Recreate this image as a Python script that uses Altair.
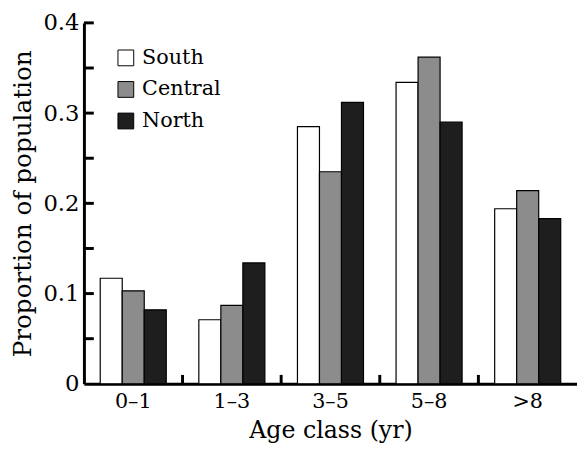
import altair as alt
import pandas as pd

categories = ["0–1", "1–3", "3–5", "5–8", ">8"]
series_names = ["South", "Central", "North"]
south = [0.117, 0.071, 0.285, 0.334, 0.194]
central = [0.103, 0.087, 0.235, 0.362, 0.214]
north = [0.082, 0.134, 0.312, 0.290, 0.183]
colors = ["#ffffff", "#8c8c8c", "#1e1e1e"]
y_ticks = [0.05, 0.1, 0.15, 0.2, 0.25, 0.3, 0.35, 0.4]
y_labels = [0, 0.1, 0.2, 0.3, 0.4]

rows = []
for name, vals in zip(series_names, [south, central, north]):
    for c, v in zip(categories, vals):
        rows.append({"cat": c, "series": name, "value": v})
df = pd.DataFrame(rows)
ytick_df = pd.DataFrame({"t": y_ticks})
xtick_df = pd.DataFrame({"cat": categories[1:]})

W, H = 500, 366
FONT = "DejaVu Serif"

xscale = alt.Scale(domain=categories, paddingInner=0, paddingOuter=0)
yscale = alt.Scale(domain=[0, 0.4], nice=False)

bars = alt.Chart(df).mark_bar(stroke="black", strokeWidth=1.2).encode(
    x=alt.X("cat:N", sort=categories, scale=xscale,
            axis=alt.Axis(title="Age class (yr)", labelAngle=0, ticks=False,
                          labelPadding=7, labelFontSize=21, titleFontSize=24,
                          labelFont=FONT, titleFont=FONT,
                          domainWidth=3, domainColor="black",
                          titleY=54, titleBaseline="alphabetic")),
    xOffset=alt.XOffset("series:N", sort=series_names,
                        scale=alt.Scale(domain=series_names, paddingInner=0, paddingOuter=0.74)),
    y=alt.Y("value:Q", scale=yscale,
            axis=alt.Axis(title="Proportion of population", values=y_labels,
                          format="~g", ticks=False, labelPadding=5,
                          labelFont=FONT, titleFont=FONT,
                          labelFontSize=23, titleFontSize=25, domainWidth=3,
                          domainColor="black", titleX=-62, titleY=H / 2,
                          titleAngle=-90, titleAlign="center", titleBaseline="middle")),
    color=alt.Color("series:N", sort=series_names,
                    scale=alt.Scale(domain=series_names, range=colors),
                    legend=alt.Legend(title=None, orient="none", legendX=32, legendY=25,
                                      symbolType="square", symbolSize=256,
                                      symbolStrokeColor="black", symbolStrokeWidth=1,
                                      labelFontSize=21, labelOffset=6, rowPadding=10,
                                      labelFont=FONT)),
)

yticks = alt.Chart(ytick_df).mark_rule(color="black", strokeWidth=3).encode(
    y=alt.Y("t:Q", scale=yscale),
    x=alt.value(0),
    x2=alt.value(10),
)

xticks = alt.Chart(xtick_df).mark_rule(color="black", strokeWidth=3).encode(
    x=alt.X("cat:N", sort=categories, scale=xscale, bandPosition=0),
    y=alt.value(H),
    y2=alt.value(H - 9),
)

chart = alt.layer(bars, yticks, xticks).properties(
    width=W, height=H,
    autosize=alt.AutoSizeParams(type="none"),
    padding={"left": 77, "top": 12, "right": 0, "bottom": 62},
).configure(font=FONT).configure_view(stroke=None).configure_axis(
    labelFont=FONT, titleFont=FONT, labelColor="black", titleColor="black",
    titleFontWeight="normal", grid=False,
).configure_legend(labelFont=FONT, labelColor="black")

chart.save("out.html", embed_options={"renderer": "svg", "actions": False})
